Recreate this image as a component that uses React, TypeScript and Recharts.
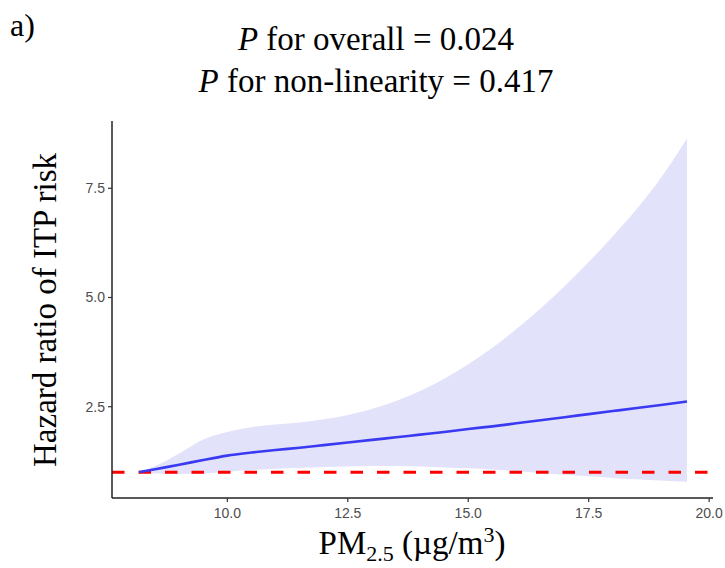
import {
  Area,
  ComposedChart,
  Label,
  Line,
  ReferenceLine,
  XAxis,
  YAxis,
} from "recharts";

// PM2.5 exposure (µg/m3)
const pm25 = [
  8.17, 8.5, 9, 9.5, 10, 10.5, 11, 11.5, 12, 12.5, 13, 13.5, 14, 14.5, 15,
  15.5, 16, 16.5, 17, 17.5, 18, 18.5, 19, 19.54,
];
// hazard ratio (spline fit)
const hazard = [
  1.0, 1.07, 1.17, 1.28, 1.38, 1.45, 1.51, 1.56, 1.62, 1.68, 1.74, 1.8, 1.86,
  1.92, 1.99, 2.05, 2.12, 2.19, 2.26, 2.33, 2.4, 2.47, 2.54, 2.62,
];
const ciLower = [
  1.0, 0.97, 0.96, 0.97, 1.01, 1.05, 1.08, 1.1, 1.12, 1.13, 1.14, 1.14, 1.13,
  1.11, 1.09, 1.06, 1.02, 0.98, 0.94, 0.91, 0.87, 0.84, 0.81, 0.78,
];
const ciUpper = [
  1.0, 1.14, 1.43, 1.75, 1.92, 2.03, 2.09, 2.14, 2.21, 2.31, 2.45, 2.63, 2.86,
  3.14, 3.47, 3.85, 4.28, 4.75, 5.26, 5.81, 6.4, 7.03, 7.74, 8.64,
];
const xTicks = [10, 12.5, 15, 17.5, 20];
const yTicks = [2.5, 5, 7.5];

const data = pm25.map((x, i) => ({
  x,
  hr: hazard[i],
  ci: [ciLower[i], ciUpper[i]],
}));

const serif = "'Liberation Serif', 'Times New Roman', serif";
const sans = "'Liberation Sans', Arial, sans-serif";

const XTick = ({ x, y, payload }: any) => (
  <text x={x} y={y + 14} textAnchor="middle" fill="#4d4d4d" fontSize={14} fontFamily={sans}>
    {Number(payload.value).toFixed(1)}
  </text>
);

const YTick = ({ x, y, payload }: any) => (
  <text x={x} y={y + 5} textAnchor="end" fill="#4d4d4d" fontSize={14} fontFamily={sans}>
    {Number(payload.value).toFixed(1)}
  </text>
);

export default function App() {
  return (
    <div style={{ position: "absolute", left: 0, top: 0, width: 725, height: 568, background: "#fff" }}>
      <ComposedChart
        width={725}
        height={568}
        data={data}
        margin={{ top: 121, right: 12, bottom: 0, left: 0 }}
      >
        <XAxis
          type="number"
          dataKey="x"
          domain={[7.606, 20.08]}
          ticks={xTicks}
          allowDataOverflow
          height={70}
          tickSize={4}
          tickMargin={2}
          axisLine={{ stroke: "#222", strokeWidth: 1.5 }}
          tickLine={{ stroke: "#333", strokeWidth: 1.2 }}
          tick={<XTick />}
        >
          <Label
            content={() => (
              <text x={412} y={554} textAnchor="middle" fontFamily={serif} fontSize={33} fill="#000">
                PM
                <tspan fontSize={22} dy={7}>2.5</tspan>
                <tspan dy={-7}> (µg/m</tspan>
                <tspan fontSize={22} dy={-12}>3</tspan>
                <tspan dy={12}>)</tspan>
              </text>
            )}
          />
        </XAxis>
        <YAxis
          type="number"
          domain={[0.41, 9.04]}
          ticks={yTicks}
          allowDataOverflow
          width={112}
          tickSize={4}
          tickMargin={3}
          axisLine={{ stroke: "#222", strokeWidth: 1.5 }}
          tickLine={{ stroke: "#333", strokeWidth: 1.2 }}
          tick={<YTick />}
        >
          <Label
            content={() => (
              <text
                x={56}
                y={310}
                transform="rotate(-90, 56, 310)"
                textAnchor="middle"
                fontFamily={serif}
                fontSize={33}
                fill="#000"
              >
                Hazard ratio of ITP risk
              </text>
            )}
          />
        </YAxis>
        <Area
          dataKey="ci"
          type="monotone"
          stroke="none"
          fill="#e2e2fa"
          fillOpacity={1}
          isAnimationActive={false}
        />
        <ReferenceLine y={1} stroke="#ff0000" strokeWidth={3} strokeDasharray="12.5 14" />
        <Line
          dataKey="hr"
          type="monotone"
          stroke="#3a3af2"
          strokeWidth={2.6}
          dot={false}
          activeDot={false}
          isAnimationActive={false}
        />
      </ComposedChart>
      <svg
        width={725}
        height={110}
        style={{ position: "absolute", left: 0, top: 0, pointerEvents: "none" }}
      >
        <text x={10} y={36} fontFamily={serif} fontSize={32} fill="#000">
          a)
        </text>
        <text x={376} y={50} textAnchor="middle" fontFamily={serif} fontSize={33} fill="#000">
          <tspan fontStyle="italic">P</tspan> for overall = 0.024
        </text>
        <text x={376} y={92} textAnchor="middle" fontFamily={serif} fontSize={33} fill="#000">
          <tspan fontStyle="italic">P</tspan> for non-linearity = 0.417
        </text>
      </svg>
    </div>
  );
}
